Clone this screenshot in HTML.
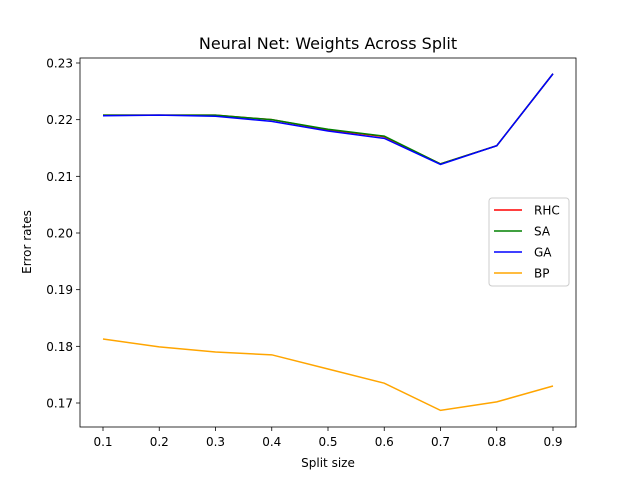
<!DOCTYPE html>
<html><head><meta charset="utf-8"><style>
body{margin:0;background:#fff;font-family:"Liberation Sans","DejaVu Sans",sans-serif}
</style></head><body>
<svg id="chart" width="640" height="480" xmlns="http://www.w3.org/2000/svg" font-family="DejaVu Sans, Liberation Sans, sans-serif"></svg>
<script>
const categories=[0.1,0.2,0.3,0.4,0.5,0.6,0.7,0.8,0.9];
const rhc=[0.2208,0.2208,0.2208,0.2200,0.2182,0.2170,0.2122,0.2154,0.2281];
const sa=[0.2208,0.2208,0.2208,0.2200,0.2183,0.2171,0.2122,0.2154,0.2281];
const ga=[0.2207,0.2208,0.2206,0.2197,0.2180,0.2167,0.2121,0.2154,0.2281];
const bp=[0.1813,0.1799,0.1790,0.1785,0.1760,0.1735,0.1687,0.1702,0.1730];
const xTicks=[0.1,0.2,0.3,0.4,0.5,0.6,0.7,0.8,0.9];
const yTicks=[0.17,0.18,0.19,0.20,0.21,0.22,0.23];
const svg=document.getElementById('chart');
const NS='http://www.w3.org/2000/svg';
const L=80,R=576,T=58,B=427;
function xs(v){return 103+(v-0.1)*562.5;}
function ys(v){return 403-(v-0.17)*5666.7;}
function mk(tag,attrs,parent){const e=document.createElementNS(NS,tag);for(const k in attrs)e.setAttribute(k,attrs[k]);(parent||svg).appendChild(e);return e;}
const title=mk('text',{x:328,y:49,'text-anchor':'middle','font-size':16});
title.textContent='Neural Net: Weights Across Split';


xTicks.forEach(v=>{
 const g=mk('g',{});
 
 
 mk('line',{x1:xs(v),x2:xs(v),y1:B,y2:B+4,stroke:'#000','stroke-width':0.8},g);
 const t=mk('text',{x:xs(v),y:B+19,'text-anchor':'middle','font-size':12},g);t.textContent=v.toFixed(1);
});
yTicks.forEach(v=>{
 const g=mk('g',{});
 
 
 mk('line',{x1:L,x2:L-4,y1:ys(v),y2:ys(v),stroke:'#000','stroke-width':0.8},g);
 const t=mk('text',{x:L-7,y:ys(v)+4.5,'text-anchor':'end','font-size':12},g);t.textContent=v.toFixed(2);
});
const xl=mk('text',{x:328,y:467,'text-anchor':'middle','font-size':12});xl.textContent='Split size';


const yl=mk('text',{x:31,y:242,'text-anchor':'middle','font-size':12,transform:'rotate(-90 31 242)'});yl.textContent='Error rates';


const series=[['RHC',rhc,'red'],['SA',sa,'green'],['GA',ga,'blue'],['BP',bp,'orange']];
series.forEach(([n,d,c])=>{
 const p=mk('polyline',{points:d.map((v,i)=>xs(categories[i])+','+ys(v)).join(' '),fill:'none',stroke:c,'stroke-width':1.5});
 
 
});
const frame=mk('rect',{x:L,y:T,width:R-L,height:B-T,fill:'none',stroke:'#000','stroke-width':0.8});


const lg=mk('g',{});


mk('rect',{x:489,y:198,width:80,height:88,rx:3,fill:'#fff',stroke:'#ccc','stroke-width':1},lg);
series.forEach(([n,d,c],i)=>{
 const y=210+i*21;
 const e=mk('g',{},lg);
 
 
 mk('line',{x1:494,x2:522,y1:y,y2:y,stroke:c,'stroke-width':1.5},e);
 const t=mk('text',{x:534,y:y+4.5,'font-size':12},e);t.textContent=n;
});
</script>
</body></html>
